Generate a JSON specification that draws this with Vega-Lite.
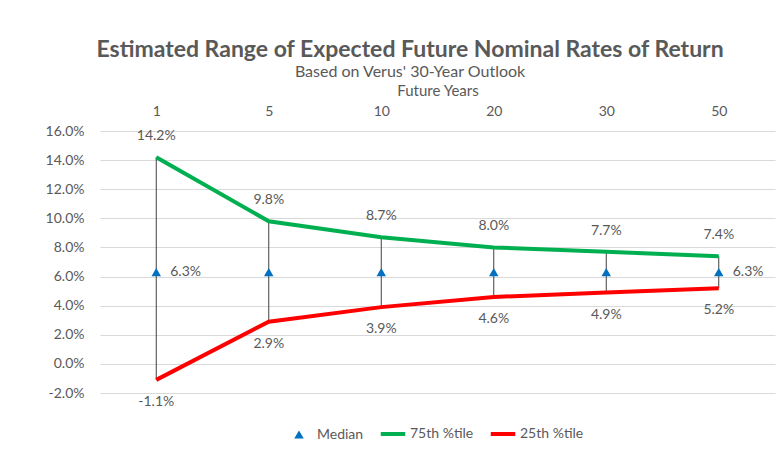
{
  "$schema": "https://vega.github.io/schema/vega-lite/v6.json",
  "width": 675,
  "height": 262,
  "padding": {"left": 45, "top": 39, "right": 8, "bottom": 10},
  "background": "white",
  "title": {
    "text": "Estimated Range of Expected Future Nominal Rates of Return",
    "subtitle": "Based on Verus' 30-Year Outlook",
    "font": "Lato", "fontSize": 23, "fontWeight": "bold", "color": "#595959",
    "subtitleFont": "Lato", "subtitleFontSize": 16, "subtitleColor": "#595959",
    "anchor": "middle", "frame": "bounds", "offset": 3, "subtitlePadding": 2
  },
  "config": {
    "view": {"stroke": null},
    "locale": {"number": {"decimal": ".", "thousands": ",", "grouping": [3], "currency": ["$", ""], "minus": "-"}},
    "axis": {"labelFont": "Lato", "labelFontSize": 14, "labelColor": "#595959", "titleFont": "Lato", "titleColor": "#595959"},
    "legend": {"labelFont": "Lato", "labelFontSize": 14, "labelColor": "#595959", "layout": {"bottom": {"anchor": "middle"}}}
  },
  "data": {
    "values": [
      {"year": 1, "p75": 0.142, "median": 0.063, "p25": -0.011},
      {"year": 5, "p75": 0.098, "median": 0.063, "p25": 0.029},
      {"year": 10, "p75": 0.087, "median": 0.063, "p25": 0.039},
      {"year": 20, "p75": 0.080, "median": 0.063, "p25": 0.046},
      {"year": 30, "p75": 0.077, "median": 0.063, "p25": 0.049},
      {"year": 50, "p75": 0.074, "median": 0.063, "p25": 0.052}
    ]
  },
  "encoding": {
    "x": {
      "field": "year", "type": "ordinal",
      "scale": {"type": "point", "padding": 0.5},
      "axis": {"orient": "top", "title": "Future Years", "labelAngle": 0, "domain": false, "ticks": false, "grid": false,
               "labelPadding": 13, "titleFontSize": 15, "titleFontWeight": "normal", "titlePadding": 6}
    }
  },
  "layer": [
    {
      "mark": {"type": "rule", "color": "#404040", "strokeWidth": 1},
      "encoding": {
        "y": {"field": "p25", "type": "quantitative",
              "scale": {"domain": [-0.02, 0.16], "nice": false},
              "axis": {"title": null, "values": [-0.02, 0, 0.02, 0.04, 0.06, 0.08, 0.1, 0.12, 0.14, 0.16], "format": ".1%",
                       "labelOverlap": false, "domain": false, "ticks": false, "gridColor": "#d9d9d9", "labelPadding": 16}},
        "y2": {"field": "p75"}
      }
    },
    {
      "transform": [{"fold": ["p75", "p25"], "as": ["series", "value"]}],
      "mark": {"type": "line", "strokeWidth": 4},
      "encoding": {
        "y": {"field": "value", "type": "quantitative",
              "axis": {"title": null, "values": [-0.02, 0, 0.02, 0.04, 0.06, 0.08, 0.1, 0.12, 0.14, 0.16], "format": ".1%",
                       "labelOverlap": false, "domain": false, "ticks": false, "gridColor": "#d9d9d9", "labelPadding": 16}},
        "color": {
          "field": "series", "type": "nominal",
          "scale": {"domain": ["median", "p75", "p25"], "range": ["#0070C0", "#00B050", "#FF0000"]},
          "legend": {
            "title": null, "orient": "bottom", "direction": "horizontal", "offset": 34,
            "symbolSize": 600, "columnPadding": 8, "labelOffset": 3,
            "labelExpr": "datum.value == 'median' ? 'Median' : datum.value == 'p75' ? '75th %tile' : '25th %tile'",
            "encode": {
              "symbols": {
                "update": {
                  "shape": {"signal": "datum.value == 'median' ? 'triangle-up' : 'stroke'"},
                  "size": {"signal": "datum.value == 'median' ? 90 : 600"},
                  "fill": {"signal": "datum.value == 'median' ? '#0070C0' : 'transparent'"},
                  "stroke": {"scale": "color", "field": "value"},
                  "strokeWidth": {"signal": "datum.value == 'median' ? 0 : 4"}
                }
              },
              "labels": {
                "update": {
                  "dx": {"signal": "datum.value == 'median' ? 8 : 7"}
                }
              }
            }
          }
        }
      }
    },
    {
      "transform": [{"fold": ["median"], "as": ["series", "value"]}],
      "mark": {"type": "point", "filled": true, "size": 90, "opacity": 1, "shape": "triangle-up", "color": "#0070C0"},
      "encoding": {
        "y": {"field": "value", "type": "quantitative",
              "axis": {"title": null, "values": [-0.02, 0, 0.02, 0.04, 0.06, 0.08, 0.1, 0.12, 0.14, 0.16], "format": ".1%",
                       "labelOverlap": false, "domain": false, "ticks": false, "gridColor": "#d9d9d9", "labelPadding": 16}}
      }
    },
    {
      "mark": {"type": "text", "dy": -21, "font": "Lato", "fontSize": 14, "color": "#595959"},
      "encoding": {"y": {"field": "p75", "type": "quantitative",
              "axis": {"title": null, "values": [-0.02, 0, 0.02, 0.04, 0.06, 0.08, 0.1, 0.12, 0.14, 0.16], "format": ".1%",
                       "labelOverlap": false, "domain": false, "ticks": false, "gridColor": "#d9d9d9", "labelPadding": 16}},
                   "text": {"field": "p75", "type": "quantitative", "format": ".1%"}}
    },
    {
      "mark": {"type": "text", "dy": 22, "font": "Lato", "fontSize": 14, "color": "#595959"},
      "encoding": {"y": {"field": "p25", "type": "quantitative",
              "axis": {"title": null, "values": [-0.02, 0, 0.02, 0.04, 0.06, 0.08, 0.1, 0.12, 0.14, 0.16], "format": ".1%",
                       "labelOverlap": false, "domain": false, "ticks": false, "gridColor": "#d9d9d9", "labelPadding": 16}},
                   "text": {"field": "p25", "type": "quantitative", "format": ".1%"}}
    },
    {
      "transform": [{"filter": "datum.year == 1 || datum.year == 50"}],
      "mark": {"type": "text", "align": "left", "dx": 14, "font": "Lato", "fontSize": 14, "color": "#595959"},
      "encoding": {"y": {"field": "median", "type": "quantitative",
              "axis": {"title": null, "values": [-0.02, 0, 0.02, 0.04, 0.06, 0.08, 0.1, 0.12, 0.14, 0.16], "format": ".1%",
                       "labelOverlap": false, "domain": false, "ticks": false, "gridColor": "#d9d9d9", "labelPadding": 16}},
                   "text": {"field": "median", "type": "quantitative", "format": ".1%"}}
    }
  ]
}
